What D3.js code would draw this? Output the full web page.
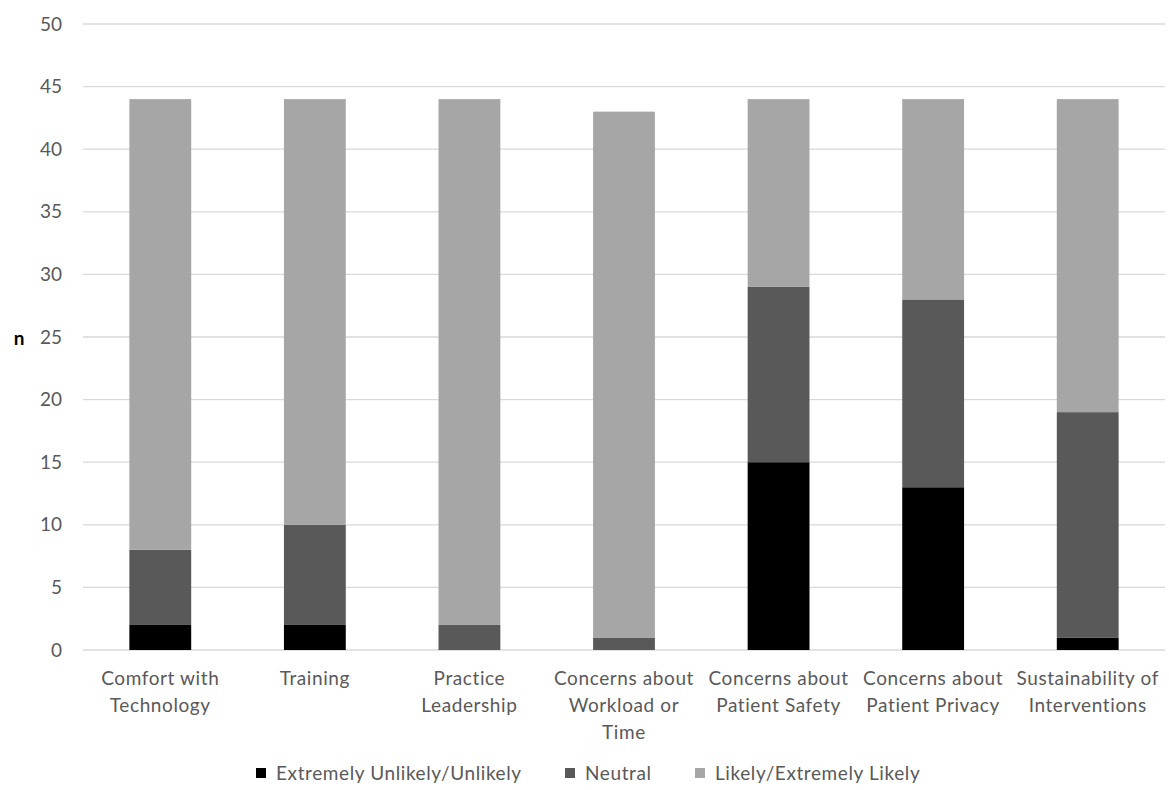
<!DOCTYPE html>
<html><head><meta charset="utf-8">
<script src="https://cdn.jsdelivr.net/npm/d3@7"></script>
<style>body{margin:0;background:#fff}svg{display:block}text{font-family:Lato,"Open Sans",sans-serif}</style>
</head><body><svg id="c" width="1169" height="790"></svg>
<script>
const categories = [
  ["Comfort with","Technology"],
  ["Training"],
  ["Practice","Leadership"],
  ["Concerns about","Workload or","Time"],
  ["Concerns about","Patient Safety"],
  ["Concerns about","Patient Privacy"],
  ["Sustainability of","Interventions"]
];
const seriesNames = ["Extremely Unlikely/Unlikely","Neutral","Likely/Extremely Likely"];
const unlikely = [2, 2, 0, 0, 15, 13, 1];
const neutral  = [6, 8, 2, 1, 14, 15, 18];
const likely   = [36, 34, 42, 42, 15, 16, 25];
const yTicks = [0,5,10,15,20,25,30,35,40,45,50];
const colors = ["#000000","#595959","#a6a6a6"];

const svg = d3.select("#c");
const m = {l:83, r:1165, t:24, b:650};
const keys = categories.map((c,i)=>i);
const x = d3.scaleBand().domain(keys).range([m.l, m.r]).paddingInner(0.6).paddingOuter(0.3);
const y = d3.scaleLinear().domain([0,50]).range([m.b, m.t]);

// gridlines
svg.append("g").selectAll("line").data(yTicks).join("line")
  .attr("x1", m.l).attr("x2", m.r)
  .attr("y1", d=>y(d)).attr("y2", d=>y(d))
  .attr("stroke","#d9d9d9").attr("stroke-width",1.3);

// y labels
const yAxis = d3.axisLeft(y).tickValues(yTicks).tickSize(0).tickPadding(0);
const ga = svg.append("g").attr("transform",`translate(62,0)`).call(yAxis);
ga.select(".domain").remove();
ga.selectAll("text").attr("font-size",19).attr("fill","#595959").attr("font-family","Lato,'Open Sans',sans-serif");

// data table
const table = keys.map(i=>({i, u:unlikely[i], n:neutral[i], l:likely[i]}));
const stack = d3.stack().keys(["u","n","l"])(table);
svg.append("g").selectAll("g").data(stack).join("g")
  .attr("fill",(d,k)=>colors[k])
  .selectAll("rect").data(d=>d).join("rect")
  .attr("x", d=>x(d.data.i)).attr("width", x.bandwidth())
  .attr("y", d=>y(d[1])).attr("height", d=>y(d[0])-y(d[1]));

// x labels
const xl = svg.append("g");
categories.forEach((lines,i)=>{
  const t = xl.append("text").attr("text-anchor","middle").attr("font-size",19).attr("fill","#595959")
    .attr("letter-spacing",0.6)
    .attr("x", x(i)+x.bandwidth()/2).attr("y", 685);
  lines.forEach((s,j)=>t.append("tspan").attr("x", x(i)+x.bandwidth()/2).attr("dy", j?27:0).text(s));
});

// axis title
svg.append("text").attr("x",19).attr("y",345).attr("text-anchor","middle")
  .attr("font-size",19).attr("font-weight","bold").attr("fill","#000").text("n");

// legend
const legX = [256, 565, 695];
const lg = svg.append("g");
seriesNames.forEach((s,k)=>{
  lg.append("rect").attr("x",legX[k]).attr("y",768).attr("width",10).attr("height",10).attr("fill",colors[k]);
  lg.append("text").attr("x",legX[k]+20).attr("y",780).attr("font-size",19).attr("letter-spacing",0.6)
    .attr("fill","#595959").text(s);
});
</script></body></html>
